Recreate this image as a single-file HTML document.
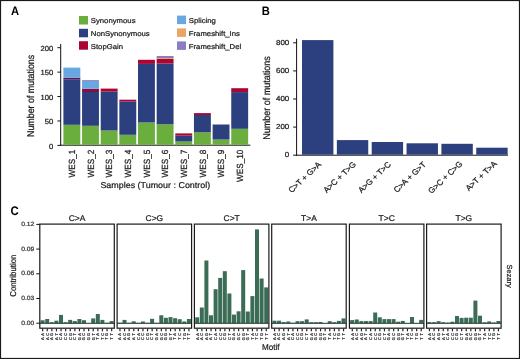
<!DOCTYPE html>
<html><head><meta charset="utf-8"><style>
html,body{margin:0;padding:0;background:#fff;}
body{width:520px;height:359px;overflow:hidden;}
svg{display:block;font-family:"Liberation Sans", sans-serif;will-change:transform;text-rendering:geometricPrecision;filter:blur(0.25px);}
</style></head><body>
<svg width="520" height="359" viewBox="0 0 520 359">
<rect x="0" y="0" width="520" height="359" fill="#fff"/>
<text x="0" y="0" font-size="12.2" text-anchor="start" fill="#000" font-weight="bold" transform="translate(10.90 14.90) scale(0.92 1)" >A</text>
<rect x="79.00" y="16.00" width="9.00" height="8.50" fill="#6aae3e"/>
<text x="0" y="0" font-size="7.1" text-anchor="start" fill="#1a1a1a" stroke="#1a1a1a" stroke-width="0.22" transform="translate(90.80 23.10) scale(1.09 1)" >Synonymous</text>
<rect x="79.00" y="28.80" width="9.00" height="8.50" fill="#2c3f7f"/>
<text x="0" y="0" font-size="7.1" text-anchor="start" fill="#1a1a1a" stroke="#1a1a1a" stroke-width="0.22" transform="translate(90.80 35.90) scale(1.09 1)" >NonSynonymous</text>
<rect x="79.00" y="41.20" width="9.00" height="8.50" fill="#aa0533"/>
<text x="0" y="0" font-size="7.1" text-anchor="start" fill="#1a1a1a" stroke="#1a1a1a" stroke-width="0.22" transform="translate(90.80 48.50) scale(1.09 1)" >StopGain</text>
<rect x="177.00" y="15.60" width="9.00" height="8.50" fill="#68a7e0"/>
<text x="0" y="0" font-size="7.1" text-anchor="start" fill="#1a1a1a" stroke="#1a1a1a" stroke-width="0.22" transform="translate(188.80 23.20) scale(1.09 1)" >Splicing</text>
<rect x="177.00" y="28.40" width="9.00" height="8.50" fill="#e9a566"/>
<text x="0" y="0" font-size="7.1" text-anchor="start" fill="#1a1a1a" stroke="#1a1a1a" stroke-width="0.22" transform="translate(188.80 36.40) scale(1.09 1)" >Frameshift_Ins</text>
<rect x="177.00" y="41.40" width="9.00" height="8.50" fill="#8c7cc3"/>
<text x="0" y="0" font-size="7.1" text-anchor="start" fill="#1a1a1a" stroke="#1a1a1a" stroke-width="0.22" transform="translate(188.80 49.20) scale(1.09 1)" >Frameshift_Del</text>
<line x1="60.70" y1="44.00" x2="60.70" y2="145.90" stroke="#111" stroke-width="1"/>
<line x1="60.20" y1="145.20" x2="250.30" y2="145.20" stroke="#111" stroke-width="1"/>
<line x1="57.40" y1="145.40" x2="60.70" y2="145.40" stroke="#111" stroke-width="1"/>
<text x="0" y="0" font-size="7.4" text-anchor="end" fill="#1a1a1a" stroke="#1a1a1a" stroke-width="0.22" transform="translate(53.20 148.60) scale(1.03 1)" >0</text>
<line x1="57.40" y1="120.98" x2="60.70" y2="120.98" stroke="#111" stroke-width="1"/>
<text x="0" y="0" font-size="7.4" text-anchor="end" fill="#1a1a1a" stroke="#1a1a1a" stroke-width="0.22" transform="translate(53.20 124.18) scale(1.03 1)" >50</text>
<line x1="57.40" y1="96.55" x2="60.70" y2="96.55" stroke="#111" stroke-width="1"/>
<text x="0" y="0" font-size="7.4" text-anchor="end" fill="#1a1a1a" stroke="#1a1a1a" stroke-width="0.22" transform="translate(53.20 99.75) scale(1.03 1)" >100</text>
<line x1="57.40" y1="72.13" x2="60.70" y2="72.13" stroke="#111" stroke-width="1"/>
<text x="0" y="0" font-size="7.4" text-anchor="end" fill="#1a1a1a" stroke="#1a1a1a" stroke-width="0.22" transform="translate(53.20 75.33) scale(1.03 1)" >150</text>
<line x1="57.40" y1="47.70" x2="60.70" y2="47.70" stroke="#111" stroke-width="1"/>
<text x="0" y="0" font-size="7.4" text-anchor="end" fill="#1a1a1a" stroke="#1a1a1a" stroke-width="0.22" transform="translate(53.20 50.90) scale(1.03 1)" >200</text>
<rect x="63.40" y="124.80" width="16.90" height="20.00" fill="#6aae3e"/>
<rect x="63.40" y="79.60" width="16.90" height="45.20" fill="#2c3f7f"/>
<rect x="63.40" y="77.70" width="16.90" height="1.90" fill="#4e1a5a"/>
<rect x="63.40" y="67.60" width="16.90" height="10.10" fill="#68a7e0"/>
<text x="0" y="0" font-size="8.2" text-anchor="end" fill="#1a1a1a" stroke="#1a1a1a" stroke-width="0.22" transform="translate(75.05 149.70) scale(1.09 1) rotate(-90)" >WES_1</text>
<rect x="82.05" y="125.80" width="16.90" height="19.00" fill="#6aae3e"/>
<rect x="82.05" y="92.00" width="16.90" height="33.80" fill="#2c3f7f"/>
<rect x="82.05" y="88.70" width="16.90" height="3.30" fill="#8a0c45"/>
<rect x="82.05" y="81.00" width="16.90" height="7.70" fill="#68a7e0"/>
<rect x="82.05" y="80.00" width="16.90" height="1.00" fill="#9a90c0"/>
<text x="0" y="0" font-size="8.2" text-anchor="end" fill="#1a1a1a" stroke="#1a1a1a" stroke-width="0.22" transform="translate(93.70 149.70) scale(1.09 1) rotate(-90)" >WES_2</text>
<rect x="100.70" y="130.50" width="16.90" height="14.30" fill="#6aae3e"/>
<rect x="100.70" y="91.60" width="16.90" height="38.90" fill="#2c3f7f"/>
<rect x="100.70" y="88.60" width="16.90" height="3.00" fill="#aa0533"/>
<text x="0" y="0" font-size="8.2" text-anchor="end" fill="#1a1a1a" stroke="#1a1a1a" stroke-width="0.22" transform="translate(112.35 149.70) scale(1.09 1) rotate(-90)" >WES_3</text>
<rect x="119.35" y="134.80" width="16.90" height="10.00" fill="#6aae3e"/>
<rect x="119.35" y="101.60" width="16.90" height="33.20" fill="#2c3f7f"/>
<rect x="119.35" y="99.70" width="16.90" height="1.90" fill="#aa0533"/>
<text x="0" y="0" font-size="8.2" text-anchor="end" fill="#1a1a1a" stroke="#1a1a1a" stroke-width="0.22" transform="translate(131.00 149.70) scale(1.09 1) rotate(-90)" >WES_4</text>
<rect x="138.00" y="122.50" width="16.90" height="22.30" fill="#6aae3e"/>
<rect x="138.00" y="63.90" width="16.90" height="58.60" fill="#2c3f7f"/>
<rect x="138.00" y="59.80" width="16.90" height="4.10" fill="#aa0533"/>
<text x="0" y="0" font-size="8.2" text-anchor="end" fill="#1a1a1a" stroke="#1a1a1a" stroke-width="0.22" transform="translate(149.65 149.70) scale(1.09 1) rotate(-90)" >WES_5</text>
<rect x="156.65" y="124.30" width="16.90" height="20.50" fill="#6aae3e"/>
<rect x="156.65" y="63.50" width="16.90" height="60.80" fill="#2c3f7f"/>
<rect x="156.65" y="59.00" width="16.90" height="4.50" fill="#aa0533"/>
<rect x="156.65" y="58.00" width="16.90" height="1.00" fill="#e9a566"/>
<rect x="156.65" y="56.00" width="16.90" height="2.00" fill="#8c7cc3"/>
<text x="0" y="0" font-size="8.2" text-anchor="end" fill="#1a1a1a" stroke="#1a1a1a" stroke-width="0.22" transform="translate(168.30 149.70) scale(1.09 1) rotate(-90)" >WES_6</text>
<rect x="175.30" y="141.50" width="16.90" height="3.30" fill="#6aae3e"/>
<rect x="175.30" y="135.60" width="16.90" height="5.90" fill="#2c3f7f"/>
<rect x="175.30" y="133.40" width="16.90" height="2.20" fill="#aa0533"/>
<text x="0" y="0" font-size="8.2" text-anchor="end" fill="#1a1a1a" stroke="#1a1a1a" stroke-width="0.22" transform="translate(186.95 149.70) scale(1.09 1) rotate(-90)" >WES_7</text>
<rect x="193.95" y="132.30" width="16.90" height="12.50" fill="#6aae3e"/>
<rect x="193.95" y="115.00" width="16.90" height="17.30" fill="#2c3f7f"/>
<rect x="193.95" y="113.10" width="16.90" height="1.90" fill="#aa0533"/>
<text x="0" y="0" font-size="8.2" text-anchor="end" fill="#1a1a1a" stroke="#1a1a1a" stroke-width="0.22" transform="translate(205.60 149.70) scale(1.09 1) rotate(-90)" >WES_8</text>
<rect x="212.60" y="139.50" width="16.90" height="5.30" fill="#6aae3e"/>
<rect x="212.60" y="124.50" width="16.90" height="15.00" fill="#2c3f7f"/>
<text x="0" y="0" font-size="8.2" text-anchor="end" fill="#1a1a1a" stroke="#1a1a1a" stroke-width="0.22" transform="translate(224.25 149.70) scale(1.09 1) rotate(-90)" >WES_9</text>
<rect x="231.25" y="128.80" width="16.90" height="16.00" fill="#6aae3e"/>
<rect x="231.25" y="92.10" width="16.90" height="36.70" fill="#2c3f7f"/>
<rect x="231.25" y="88.20" width="16.90" height="3.90" fill="#aa0533"/>
<text x="0" y="0" font-size="8.2" text-anchor="end" fill="#1a1a1a" stroke="#1a1a1a" stroke-width="0.22" transform="translate(242.90 149.70) scale(1.09 1) rotate(-90)" >WES_10</text>
<text x="0" y="0" font-size="8.5" text-anchor="start" fill="#1a1a1a" stroke="#1a1a1a" stroke-width="0.22" transform="translate(100.40 188.00) scale(1.05 1)" >Samples (Tumour : Control)</text>
<text x="0" y="0" font-size="8.85" text-anchor="middle" fill="#1a1a1a" stroke="#1a1a1a" stroke-width="0.22" transform="translate(34.10 95.90) scale(1.12 1) rotate(-90)" >Number of mutations</text>
<text x="0" y="0" font-size="12.2" text-anchor="start" fill="#000" font-weight="bold" transform="translate(261.80 15.10) scale(0.92 1)" >B</text>
<line x1="296.60" y1="38.70" x2="296.60" y2="155.70" stroke="#111" stroke-width="1"/>
<line x1="296.10" y1="155.20" x2="508.00" y2="155.20" stroke="#111" stroke-width="1"/>
<line x1="293.20" y1="155.20" x2="296.60" y2="155.20" stroke="#111" stroke-width="1"/>
<text x="0" y="0" font-size="7.3" text-anchor="end" fill="#1a1a1a" stroke="#1a1a1a" stroke-width="0.22" transform="translate(289.30 157.00) scale(1.09 1)" >0</text>
<line x1="293.20" y1="127.10" x2="296.60" y2="127.10" stroke="#111" stroke-width="1"/>
<text x="0" y="0" font-size="7.3" text-anchor="end" fill="#1a1a1a" stroke="#1a1a1a" stroke-width="0.22" transform="translate(289.30 128.90) scale(1.09 1)" >200</text>
<line x1="293.20" y1="99.00" x2="296.60" y2="99.00" stroke="#111" stroke-width="1"/>
<text x="0" y="0" font-size="7.3" text-anchor="end" fill="#1a1a1a" stroke="#1a1a1a" stroke-width="0.22" transform="translate(289.30 100.80) scale(1.09 1)" >400</text>
<line x1="293.20" y1="70.90" x2="296.60" y2="70.90" stroke="#111" stroke-width="1"/>
<text x="0" y="0" font-size="7.3" text-anchor="end" fill="#1a1a1a" stroke="#1a1a1a" stroke-width="0.22" transform="translate(289.30 72.70) scale(1.09 1)" >600</text>
<line x1="293.20" y1="42.80" x2="296.60" y2="42.80" stroke="#111" stroke-width="1"/>
<text x="0" y="0" font-size="7.3" text-anchor="end" fill="#1a1a1a" stroke="#1a1a1a" stroke-width="0.22" transform="translate(289.30 44.60) scale(1.09 1)" >800</text>
<rect x="302.00" y="40.10" width="31.40" height="114.60" fill="#2c3f7f"/>
<text x="0" y="0" font-size="7.9" text-anchor="end" fill="#1a1a1a" stroke="#1a1a1a" stroke-width="0.22" transform="translate(321.80 165.00) scale(1.06 1) rotate(-45)" >C&gt;T + G&gt;A</text>
<rect x="336.85" y="140.10" width="31.40" height="14.60" fill="#2c3f7f"/>
<text x="0" y="0" font-size="7.9" text-anchor="end" fill="#1a1a1a" stroke="#1a1a1a" stroke-width="0.22" transform="translate(356.65 165.00) scale(1.06 1) rotate(-45)" >A&gt;C + T&gt;G</text>
<rect x="371.70" y="142.00" width="31.40" height="12.70" fill="#2c3f7f"/>
<text x="0" y="0" font-size="7.9" text-anchor="end" fill="#1a1a1a" stroke="#1a1a1a" stroke-width="0.22" transform="translate(391.50 165.00) scale(1.06 1) rotate(-45)" >A&gt;G + T&gt;C</text>
<rect x="406.55" y="143.30" width="31.40" height="11.40" fill="#2c3f7f"/>
<text x="0" y="0" font-size="7.9" text-anchor="end" fill="#1a1a1a" stroke="#1a1a1a" stroke-width="0.22" transform="translate(426.65 165.00) scale(1.06 1) rotate(-45)" >C&gt;A + G&gt;T</text>
<rect x="441.40" y="143.80" width="31.40" height="10.90" fill="#2c3f7f"/>
<text x="0" y="0" font-size="7.9" text-anchor="end" fill="#1a1a1a" stroke="#1a1a1a" stroke-width="0.22" transform="translate(463.00 164.40) scale(1.06 1) rotate(-45)" >G&gt;C + C&gt;G</text>
<rect x="476.25" y="147.70" width="31.40" height="7.00" fill="#2c3f7f"/>
<text x="0" y="0" font-size="7.9" text-anchor="end" fill="#1a1a1a" stroke="#1a1a1a" stroke-width="0.22" transform="translate(497.45 164.40) scale(1.06 1) rotate(-45)" >A&gt;T + T&gt;A</text>
<text x="0" y="0" font-size="9.0" text-anchor="middle" fill="#1a1a1a" stroke="#1a1a1a" stroke-width="0.22" transform="translate(269.80 98.00) scale(1.1 1) rotate(-90)" >Number of mutations</text>
<text x="0" y="0" font-size="12.4" text-anchor="start" fill="#000" font-weight="bold" transform="translate(10.60 215.30) scale(0.92 1)" >C</text>
<text x="0" y="0" font-size="8.3" text-anchor="middle" fill="#1a1a1a" stroke="#1a1a1a" stroke-width="0.22" transform="translate(77.05 221.10) scale(1.02 1)" >C&gt;A</text>
<rect x="40.60" y="320.30" width="4.00" height="2.90" fill="#3b6c55"/>
<rect x="45.20" y="319.00" width="4.00" height="4.20" fill="#3b6c55"/>
<rect x="49.80" y="322.20" width="4.00" height="1.00" fill="#3b6c55"/>
<rect x="54.40" y="320.70" width="4.00" height="2.50" fill="#3b6c55"/>
<rect x="59.00" y="314.90" width="4.00" height="8.30" fill="#3b6c55"/>
<rect x="63.60" y="322.20" width="4.00" height="1.00" fill="#3b6c55"/>
<rect x="68.20" y="319.90" width="4.00" height="3.30" fill="#3b6c55"/>
<rect x="72.80" y="321.10" width="4.00" height="2.10" fill="#3b6c55"/>
<rect x="77.40" y="319.00" width="4.00" height="4.20" fill="#3b6c55"/>
<rect x="82.00" y="320.20" width="4.00" height="3.00" fill="#3b6c55"/>
<rect x="91.20" y="318.40" width="4.00" height="4.80" fill="#3b6c55"/>
<rect x="95.80" y="314.00" width="4.00" height="9.20" fill="#3b6c55"/>
<rect x="100.40" y="319.90" width="4.00" height="3.30" fill="#3b6c55"/>
<rect x="105.00" y="322.80" width="4.00" height="0.40" fill="#3b6c55"/>
<rect x="109.60" y="321.10" width="4.00" height="2.10" fill="#3b6c55"/>
<line x1="39.80" y1="323.30" x2="114.30" y2="323.30" stroke="#1d3a2b" stroke-width="1"/>
<rect x="39.80" y="224.1" width="74.50" height="104.1" fill="none" stroke="#1a1a1a" stroke-width="1.2"/>
<line x1="42.65" y1="328.80" x2="42.65" y2="331.30" stroke="#222" stroke-width="1.2"/>
<text x="0" y="0" font-size="4.0" text-anchor="middle" fill="#383838" stroke="#383838" stroke-width="0.25" transform="translate(43.95 334.40) rotate(-90)" text-rendering="geometricPrecision">A</text>
<text x="0" y="0" font-size="4.0" text-anchor="middle" fill="#383838" stroke="#383838" stroke-width="0.25" transform="translate(43.95 338.60) rotate(-90)" text-rendering="geometricPrecision">A</text>
<line x1="47.25" y1="328.80" x2="47.25" y2="331.30" stroke="#222" stroke-width="1.2"/>
<text x="0" y="0" font-size="4.0" text-anchor="middle" fill="#383838" stroke="#383838" stroke-width="0.25" transform="translate(48.55 334.40) rotate(-90)" text-rendering="geometricPrecision">C</text>
<text x="0" y="0" font-size="4.0" text-anchor="middle" fill="#383838" stroke="#383838" stroke-width="0.25" transform="translate(48.55 338.60) rotate(-90)" text-rendering="geometricPrecision">A</text>
<line x1="51.85" y1="328.80" x2="51.85" y2="331.30" stroke="#222" stroke-width="1.2"/>
<text x="0" y="0" font-size="4.0" text-anchor="middle" fill="#383838" stroke="#383838" stroke-width="0.25" transform="translate(53.15 334.40) rotate(-90)" text-rendering="geometricPrecision">G</text>
<text x="0" y="0" font-size="4.0" text-anchor="middle" fill="#383838" stroke="#383838" stroke-width="0.25" transform="translate(53.15 338.60) rotate(-90)" text-rendering="geometricPrecision">A</text>
<line x1="56.45" y1="328.80" x2="56.45" y2="331.30" stroke="#222" stroke-width="1.2"/>
<text x="0" y="0" font-size="4.0" text-anchor="middle" fill="#383838" stroke="#383838" stroke-width="0.25" transform="translate(57.75 334.40) rotate(-90)" text-rendering="geometricPrecision">T</text>
<text x="0" y="0" font-size="4.0" text-anchor="middle" fill="#383838" stroke="#383838" stroke-width="0.25" transform="translate(57.75 338.60) rotate(-90)" text-rendering="geometricPrecision">A</text>
<line x1="61.05" y1="328.80" x2="61.05" y2="331.30" stroke="#222" stroke-width="1.2"/>
<text x="0" y="0" font-size="4.0" text-anchor="middle" fill="#383838" stroke="#383838" stroke-width="0.25" transform="translate(62.35 334.40) rotate(-90)" text-rendering="geometricPrecision">A</text>
<text x="0" y="0" font-size="4.0" text-anchor="middle" fill="#383838" stroke="#383838" stroke-width="0.25" transform="translate(62.35 338.60) rotate(-90)" text-rendering="geometricPrecision">C</text>
<line x1="65.65" y1="328.80" x2="65.65" y2="331.30" stroke="#222" stroke-width="1.2"/>
<text x="0" y="0" font-size="4.0" text-anchor="middle" fill="#383838" stroke="#383838" stroke-width="0.25" transform="translate(66.95 334.40) rotate(-90)" text-rendering="geometricPrecision">C</text>
<text x="0" y="0" font-size="4.0" text-anchor="middle" fill="#383838" stroke="#383838" stroke-width="0.25" transform="translate(66.95 338.60) rotate(-90)" text-rendering="geometricPrecision">C</text>
<line x1="70.25" y1="328.80" x2="70.25" y2="331.30" stroke="#222" stroke-width="1.2"/>
<text x="0" y="0" font-size="4.0" text-anchor="middle" fill="#383838" stroke="#383838" stroke-width="0.25" transform="translate(71.55 334.40) rotate(-90)" text-rendering="geometricPrecision">G</text>
<text x="0" y="0" font-size="4.0" text-anchor="middle" fill="#383838" stroke="#383838" stroke-width="0.25" transform="translate(71.55 338.60) rotate(-90)" text-rendering="geometricPrecision">C</text>
<line x1="74.85" y1="328.80" x2="74.85" y2="331.30" stroke="#222" stroke-width="1.2"/>
<text x="0" y="0" font-size="4.0" text-anchor="middle" fill="#383838" stroke="#383838" stroke-width="0.25" transform="translate(76.15 334.40) rotate(-90)" text-rendering="geometricPrecision">T</text>
<text x="0" y="0" font-size="4.0" text-anchor="middle" fill="#383838" stroke="#383838" stroke-width="0.25" transform="translate(76.15 338.60) rotate(-90)" text-rendering="geometricPrecision">C</text>
<line x1="79.45" y1="328.80" x2="79.45" y2="331.30" stroke="#222" stroke-width="1.2"/>
<text x="0" y="0" font-size="4.0" text-anchor="middle" fill="#383838" stroke="#383838" stroke-width="0.25" transform="translate(80.75 334.40) rotate(-90)" text-rendering="geometricPrecision">A</text>
<text x="0" y="0" font-size="4.0" text-anchor="middle" fill="#383838" stroke="#383838" stroke-width="0.25" transform="translate(80.75 338.60) rotate(-90)" text-rendering="geometricPrecision">G</text>
<line x1="84.05" y1="328.80" x2="84.05" y2="331.30" stroke="#222" stroke-width="1.2"/>
<text x="0" y="0" font-size="4.0" text-anchor="middle" fill="#383838" stroke="#383838" stroke-width="0.25" transform="translate(85.35 334.40) rotate(-90)" text-rendering="geometricPrecision">C</text>
<text x="0" y="0" font-size="4.0" text-anchor="middle" fill="#383838" stroke="#383838" stroke-width="0.25" transform="translate(85.35 338.60) rotate(-90)" text-rendering="geometricPrecision">G</text>
<line x1="88.65" y1="328.80" x2="88.65" y2="331.30" stroke="#222" stroke-width="1.2"/>
<text x="0" y="0" font-size="4.0" text-anchor="middle" fill="#383838" stroke="#383838" stroke-width="0.25" transform="translate(89.95 334.40) rotate(-90)" text-rendering="geometricPrecision">G</text>
<text x="0" y="0" font-size="4.0" text-anchor="middle" fill="#383838" stroke="#383838" stroke-width="0.25" transform="translate(89.95 338.60) rotate(-90)" text-rendering="geometricPrecision">G</text>
<line x1="93.25" y1="328.80" x2="93.25" y2="331.30" stroke="#222" stroke-width="1.2"/>
<text x="0" y="0" font-size="4.0" text-anchor="middle" fill="#383838" stroke="#383838" stroke-width="0.25" transform="translate(94.55 334.40) rotate(-90)" text-rendering="geometricPrecision">T</text>
<text x="0" y="0" font-size="4.0" text-anchor="middle" fill="#383838" stroke="#383838" stroke-width="0.25" transform="translate(94.55 338.60) rotate(-90)" text-rendering="geometricPrecision">G</text>
<line x1="97.85" y1="328.80" x2="97.85" y2="331.30" stroke="#222" stroke-width="1.2"/>
<text x="0" y="0" font-size="4.0" text-anchor="middle" fill="#383838" stroke="#383838" stroke-width="0.25" transform="translate(99.15 334.40) rotate(-90)" text-rendering="geometricPrecision">A</text>
<text x="0" y="0" font-size="4.0" text-anchor="middle" fill="#383838" stroke="#383838" stroke-width="0.25" transform="translate(99.15 338.60) rotate(-90)" text-rendering="geometricPrecision">T</text>
<line x1="102.45" y1="328.80" x2="102.45" y2="331.30" stroke="#222" stroke-width="1.2"/>
<text x="0" y="0" font-size="4.0" text-anchor="middle" fill="#383838" stroke="#383838" stroke-width="0.25" transform="translate(103.75 334.40) rotate(-90)" text-rendering="geometricPrecision">C</text>
<text x="0" y="0" font-size="4.0" text-anchor="middle" fill="#383838" stroke="#383838" stroke-width="0.25" transform="translate(103.75 338.60) rotate(-90)" text-rendering="geometricPrecision">T</text>
<line x1="107.05" y1="328.80" x2="107.05" y2="331.30" stroke="#222" stroke-width="1.2"/>
<text x="0" y="0" font-size="4.0" text-anchor="middle" fill="#383838" stroke="#383838" stroke-width="0.25" transform="translate(108.35 334.40) rotate(-90)" text-rendering="geometricPrecision">G</text>
<text x="0" y="0" font-size="4.0" text-anchor="middle" fill="#383838" stroke="#383838" stroke-width="0.25" transform="translate(108.35 338.60) rotate(-90)" text-rendering="geometricPrecision">T</text>
<line x1="111.65" y1="328.80" x2="111.65" y2="331.30" stroke="#222" stroke-width="1.2"/>
<text x="0" y="0" font-size="4.0" text-anchor="middle" fill="#383838" stroke="#383838" stroke-width="0.25" transform="translate(112.95 334.40) rotate(-90)" text-rendering="geometricPrecision">T</text>
<text x="0" y="0" font-size="4.0" text-anchor="middle" fill="#383838" stroke="#383838" stroke-width="0.25" transform="translate(112.95 338.60) rotate(-90)" text-rendering="geometricPrecision">T</text>
<text x="0" y="0" font-size="8.3" text-anchor="middle" fill="#1a1a1a" stroke="#1a1a1a" stroke-width="0.22" transform="translate(154.35 221.10) scale(1.02 1)" >C&gt;G</text>
<rect x="117.90" y="322.70" width="4.00" height="0.50" fill="#3b6c55"/>
<rect x="122.50" y="319.90" width="4.00" height="3.30" fill="#3b6c55"/>
<rect x="127.10" y="322.80" width="4.00" height="0.40" fill="#3b6c55"/>
<rect x="131.70" y="321.30" width="4.00" height="1.90" fill="#3b6c55"/>
<rect x="136.30" y="322.80" width="4.00" height="0.40" fill="#3b6c55"/>
<rect x="140.90" y="321.50" width="4.00" height="1.70" fill="#3b6c55"/>
<rect x="145.50" y="322.80" width="4.00" height="0.40" fill="#3b6c55"/>
<rect x="150.10" y="318.80" width="4.00" height="4.40" fill="#3b6c55"/>
<rect x="154.70" y="322.90" width="4.00" height="0.30" fill="#3b6c55"/>
<rect x="159.30" y="315.30" width="4.00" height="7.90" fill="#3b6c55"/>
<rect x="163.90" y="317.80" width="4.00" height="5.40" fill="#3b6c55"/>
<rect x="168.50" y="317.10" width="4.00" height="6.10" fill="#3b6c55"/>
<rect x="173.10" y="318.20" width="4.00" height="5.00" fill="#3b6c55"/>
<rect x="177.70" y="319.20" width="4.00" height="4.00" fill="#3b6c55"/>
<rect x="182.30" y="321.50" width="4.00" height="1.70" fill="#3b6c55"/>
<rect x="186.90" y="319.00" width="4.00" height="4.20" fill="#3b6c55"/>
<line x1="117.10" y1="323.30" x2="191.60" y2="323.30" stroke="#1d3a2b" stroke-width="1"/>
<rect x="117.10" y="224.1" width="74.50" height="104.1" fill="none" stroke="#1a1a1a" stroke-width="1.2"/>
<line x1="119.95" y1="328.80" x2="119.95" y2="331.30" stroke="#222" stroke-width="1.2"/>
<text x="0" y="0" font-size="4.0" text-anchor="middle" fill="#383838" stroke="#383838" stroke-width="0.25" transform="translate(121.25 334.40) rotate(-90)" text-rendering="geometricPrecision">A</text>
<text x="0" y="0" font-size="4.0" text-anchor="middle" fill="#383838" stroke="#383838" stroke-width="0.25" transform="translate(121.25 338.60) rotate(-90)" text-rendering="geometricPrecision">A</text>
<line x1="124.55" y1="328.80" x2="124.55" y2="331.30" stroke="#222" stroke-width="1.2"/>
<text x="0" y="0" font-size="4.0" text-anchor="middle" fill="#383838" stroke="#383838" stroke-width="0.25" transform="translate(125.85 334.40) rotate(-90)" text-rendering="geometricPrecision">C</text>
<text x="0" y="0" font-size="4.0" text-anchor="middle" fill="#383838" stroke="#383838" stroke-width="0.25" transform="translate(125.85 338.60) rotate(-90)" text-rendering="geometricPrecision">A</text>
<line x1="129.15" y1="328.80" x2="129.15" y2="331.30" stroke="#222" stroke-width="1.2"/>
<text x="0" y="0" font-size="4.0" text-anchor="middle" fill="#383838" stroke="#383838" stroke-width="0.25" transform="translate(130.45 334.40) rotate(-90)" text-rendering="geometricPrecision">G</text>
<text x="0" y="0" font-size="4.0" text-anchor="middle" fill="#383838" stroke="#383838" stroke-width="0.25" transform="translate(130.45 338.60) rotate(-90)" text-rendering="geometricPrecision">A</text>
<line x1="133.75" y1="328.80" x2="133.75" y2="331.30" stroke="#222" stroke-width="1.2"/>
<text x="0" y="0" font-size="4.0" text-anchor="middle" fill="#383838" stroke="#383838" stroke-width="0.25" transform="translate(135.05 334.40) rotate(-90)" text-rendering="geometricPrecision">T</text>
<text x="0" y="0" font-size="4.0" text-anchor="middle" fill="#383838" stroke="#383838" stroke-width="0.25" transform="translate(135.05 338.60) rotate(-90)" text-rendering="geometricPrecision">A</text>
<line x1="138.35" y1="328.80" x2="138.35" y2="331.30" stroke="#222" stroke-width="1.2"/>
<text x="0" y="0" font-size="4.0" text-anchor="middle" fill="#383838" stroke="#383838" stroke-width="0.25" transform="translate(139.65 334.40) rotate(-90)" text-rendering="geometricPrecision">A</text>
<text x="0" y="0" font-size="4.0" text-anchor="middle" fill="#383838" stroke="#383838" stroke-width="0.25" transform="translate(139.65 338.60) rotate(-90)" text-rendering="geometricPrecision">C</text>
<line x1="142.95" y1="328.80" x2="142.95" y2="331.30" stroke="#222" stroke-width="1.2"/>
<text x="0" y="0" font-size="4.0" text-anchor="middle" fill="#383838" stroke="#383838" stroke-width="0.25" transform="translate(144.25 334.40) rotate(-90)" text-rendering="geometricPrecision">C</text>
<text x="0" y="0" font-size="4.0" text-anchor="middle" fill="#383838" stroke="#383838" stroke-width="0.25" transform="translate(144.25 338.60) rotate(-90)" text-rendering="geometricPrecision">C</text>
<line x1="147.55" y1="328.80" x2="147.55" y2="331.30" stroke="#222" stroke-width="1.2"/>
<text x="0" y="0" font-size="4.0" text-anchor="middle" fill="#383838" stroke="#383838" stroke-width="0.25" transform="translate(148.85 334.40) rotate(-90)" text-rendering="geometricPrecision">G</text>
<text x="0" y="0" font-size="4.0" text-anchor="middle" fill="#383838" stroke="#383838" stroke-width="0.25" transform="translate(148.85 338.60) rotate(-90)" text-rendering="geometricPrecision">C</text>
<line x1="152.15" y1="328.80" x2="152.15" y2="331.30" stroke="#222" stroke-width="1.2"/>
<text x="0" y="0" font-size="4.0" text-anchor="middle" fill="#383838" stroke="#383838" stroke-width="0.25" transform="translate(153.45 334.40) rotate(-90)" text-rendering="geometricPrecision">T</text>
<text x="0" y="0" font-size="4.0" text-anchor="middle" fill="#383838" stroke="#383838" stroke-width="0.25" transform="translate(153.45 338.60) rotate(-90)" text-rendering="geometricPrecision">C</text>
<line x1="156.75" y1="328.80" x2="156.75" y2="331.30" stroke="#222" stroke-width="1.2"/>
<text x="0" y="0" font-size="4.0" text-anchor="middle" fill="#383838" stroke="#383838" stroke-width="0.25" transform="translate(158.05 334.40) rotate(-90)" text-rendering="geometricPrecision">A</text>
<text x="0" y="0" font-size="4.0" text-anchor="middle" fill="#383838" stroke="#383838" stroke-width="0.25" transform="translate(158.05 338.60) rotate(-90)" text-rendering="geometricPrecision">G</text>
<line x1="161.35" y1="328.80" x2="161.35" y2="331.30" stroke="#222" stroke-width="1.2"/>
<text x="0" y="0" font-size="4.0" text-anchor="middle" fill="#383838" stroke="#383838" stroke-width="0.25" transform="translate(162.65 334.40) rotate(-90)" text-rendering="geometricPrecision">C</text>
<text x="0" y="0" font-size="4.0" text-anchor="middle" fill="#383838" stroke="#383838" stroke-width="0.25" transform="translate(162.65 338.60) rotate(-90)" text-rendering="geometricPrecision">G</text>
<line x1="165.95" y1="328.80" x2="165.95" y2="331.30" stroke="#222" stroke-width="1.2"/>
<text x="0" y="0" font-size="4.0" text-anchor="middle" fill="#383838" stroke="#383838" stroke-width="0.25" transform="translate(167.25 334.40) rotate(-90)" text-rendering="geometricPrecision">G</text>
<text x="0" y="0" font-size="4.0" text-anchor="middle" fill="#383838" stroke="#383838" stroke-width="0.25" transform="translate(167.25 338.60) rotate(-90)" text-rendering="geometricPrecision">G</text>
<line x1="170.55" y1="328.80" x2="170.55" y2="331.30" stroke="#222" stroke-width="1.2"/>
<text x="0" y="0" font-size="4.0" text-anchor="middle" fill="#383838" stroke="#383838" stroke-width="0.25" transform="translate(171.85 334.40) rotate(-90)" text-rendering="geometricPrecision">T</text>
<text x="0" y="0" font-size="4.0" text-anchor="middle" fill="#383838" stroke="#383838" stroke-width="0.25" transform="translate(171.85 338.60) rotate(-90)" text-rendering="geometricPrecision">G</text>
<line x1="175.15" y1="328.80" x2="175.15" y2="331.30" stroke="#222" stroke-width="1.2"/>
<text x="0" y="0" font-size="4.0" text-anchor="middle" fill="#383838" stroke="#383838" stroke-width="0.25" transform="translate(176.45 334.40) rotate(-90)" text-rendering="geometricPrecision">A</text>
<text x="0" y="0" font-size="4.0" text-anchor="middle" fill="#383838" stroke="#383838" stroke-width="0.25" transform="translate(176.45 338.60) rotate(-90)" text-rendering="geometricPrecision">T</text>
<line x1="179.75" y1="328.80" x2="179.75" y2="331.30" stroke="#222" stroke-width="1.2"/>
<text x="0" y="0" font-size="4.0" text-anchor="middle" fill="#383838" stroke="#383838" stroke-width="0.25" transform="translate(181.05 334.40) rotate(-90)" text-rendering="geometricPrecision">C</text>
<text x="0" y="0" font-size="4.0" text-anchor="middle" fill="#383838" stroke="#383838" stroke-width="0.25" transform="translate(181.05 338.60) rotate(-90)" text-rendering="geometricPrecision">T</text>
<line x1="184.35" y1="328.80" x2="184.35" y2="331.30" stroke="#222" stroke-width="1.2"/>
<text x="0" y="0" font-size="4.0" text-anchor="middle" fill="#383838" stroke="#383838" stroke-width="0.25" transform="translate(185.65 334.40) rotate(-90)" text-rendering="geometricPrecision">G</text>
<text x="0" y="0" font-size="4.0" text-anchor="middle" fill="#383838" stroke="#383838" stroke-width="0.25" transform="translate(185.65 338.60) rotate(-90)" text-rendering="geometricPrecision">T</text>
<line x1="188.95" y1="328.80" x2="188.95" y2="331.30" stroke="#222" stroke-width="1.2"/>
<text x="0" y="0" font-size="4.0" text-anchor="middle" fill="#383838" stroke="#383838" stroke-width="0.25" transform="translate(190.25 334.40) rotate(-90)" text-rendering="geometricPrecision">T</text>
<text x="0" y="0" font-size="4.0" text-anchor="middle" fill="#383838" stroke="#383838" stroke-width="0.25" transform="translate(190.25 338.60) rotate(-90)" text-rendering="geometricPrecision">T</text>
<text x="0" y="0" font-size="8.3" text-anchor="middle" fill="#1a1a1a" stroke="#1a1a1a" stroke-width="0.22" transform="translate(231.65 221.10) scale(1.02 1)" >C&gt;T</text>
<rect x="195.20" y="317.30" width="4.00" height="5.90" fill="#3b6c55"/>
<rect x="199.80" y="307.50" width="4.00" height="15.70" fill="#3b6c55"/>
<rect x="204.40" y="260.50" width="4.00" height="62.70" fill="#3b6c55"/>
<rect x="209.00" y="315.30" width="4.00" height="7.90" fill="#3b6c55"/>
<rect x="213.60" y="289.20" width="4.00" height="34.00" fill="#3b6c55"/>
<rect x="218.20" y="277.90" width="4.00" height="45.30" fill="#3b6c55"/>
<rect x="222.80" y="271.20" width="4.00" height="52.00" fill="#3b6c55"/>
<rect x="227.40" y="293.50" width="4.00" height="29.70" fill="#3b6c55"/>
<rect x="232.00" y="314.60" width="4.00" height="8.60" fill="#3b6c55"/>
<rect x="236.60" y="311.30" width="4.00" height="11.90" fill="#3b6c55"/>
<rect x="241.20" y="270.10" width="4.00" height="53.10" fill="#3b6c55"/>
<rect x="245.80" y="311.50" width="4.00" height="11.70" fill="#3b6c55"/>
<rect x="250.40" y="296.10" width="4.00" height="27.10" fill="#3b6c55"/>
<rect x="255.00" y="229.40" width="4.00" height="93.80" fill="#3b6c55"/>
<rect x="259.60" y="278.50" width="4.00" height="44.70" fill="#3b6c55"/>
<rect x="264.20" y="287.40" width="4.00" height="35.80" fill="#3b6c55"/>
<line x1="194.40" y1="323.30" x2="268.90" y2="323.30" stroke="#1d3a2b" stroke-width="1"/>
<rect x="194.40" y="224.1" width="74.50" height="104.1" fill="none" stroke="#1a1a1a" stroke-width="1.2"/>
<line x1="197.25" y1="328.80" x2="197.25" y2="331.30" stroke="#222" stroke-width="1.2"/>
<text x="0" y="0" font-size="4.0" text-anchor="middle" fill="#383838" stroke="#383838" stroke-width="0.25" transform="translate(198.55 334.40) rotate(-90)" text-rendering="geometricPrecision">A</text>
<text x="0" y="0" font-size="4.0" text-anchor="middle" fill="#383838" stroke="#383838" stroke-width="0.25" transform="translate(198.55 338.60) rotate(-90)" text-rendering="geometricPrecision">A</text>
<line x1="201.85" y1="328.80" x2="201.85" y2="331.30" stroke="#222" stroke-width="1.2"/>
<text x="0" y="0" font-size="4.0" text-anchor="middle" fill="#383838" stroke="#383838" stroke-width="0.25" transform="translate(203.15 334.40) rotate(-90)" text-rendering="geometricPrecision">C</text>
<text x="0" y="0" font-size="4.0" text-anchor="middle" fill="#383838" stroke="#383838" stroke-width="0.25" transform="translate(203.15 338.60) rotate(-90)" text-rendering="geometricPrecision">A</text>
<line x1="206.45" y1="328.80" x2="206.45" y2="331.30" stroke="#222" stroke-width="1.2"/>
<text x="0" y="0" font-size="4.0" text-anchor="middle" fill="#383838" stroke="#383838" stroke-width="0.25" transform="translate(207.75 334.40) rotate(-90)" text-rendering="geometricPrecision">G</text>
<text x="0" y="0" font-size="4.0" text-anchor="middle" fill="#383838" stroke="#383838" stroke-width="0.25" transform="translate(207.75 338.60) rotate(-90)" text-rendering="geometricPrecision">A</text>
<line x1="211.05" y1="328.80" x2="211.05" y2="331.30" stroke="#222" stroke-width="1.2"/>
<text x="0" y="0" font-size="4.0" text-anchor="middle" fill="#383838" stroke="#383838" stroke-width="0.25" transform="translate(212.35 334.40) rotate(-90)" text-rendering="geometricPrecision">T</text>
<text x="0" y="0" font-size="4.0" text-anchor="middle" fill="#383838" stroke="#383838" stroke-width="0.25" transform="translate(212.35 338.60) rotate(-90)" text-rendering="geometricPrecision">A</text>
<line x1="215.65" y1="328.80" x2="215.65" y2="331.30" stroke="#222" stroke-width="1.2"/>
<text x="0" y="0" font-size="4.0" text-anchor="middle" fill="#383838" stroke="#383838" stroke-width="0.25" transform="translate(216.95 334.40) rotate(-90)" text-rendering="geometricPrecision">A</text>
<text x="0" y="0" font-size="4.0" text-anchor="middle" fill="#383838" stroke="#383838" stroke-width="0.25" transform="translate(216.95 338.60) rotate(-90)" text-rendering="geometricPrecision">C</text>
<line x1="220.25" y1="328.80" x2="220.25" y2="331.30" stroke="#222" stroke-width="1.2"/>
<text x="0" y="0" font-size="4.0" text-anchor="middle" fill="#383838" stroke="#383838" stroke-width="0.25" transform="translate(221.55 334.40) rotate(-90)" text-rendering="geometricPrecision">C</text>
<text x="0" y="0" font-size="4.0" text-anchor="middle" fill="#383838" stroke="#383838" stroke-width="0.25" transform="translate(221.55 338.60) rotate(-90)" text-rendering="geometricPrecision">C</text>
<line x1="224.85" y1="328.80" x2="224.85" y2="331.30" stroke="#222" stroke-width="1.2"/>
<text x="0" y="0" font-size="4.0" text-anchor="middle" fill="#383838" stroke="#383838" stroke-width="0.25" transform="translate(226.15 334.40) rotate(-90)" text-rendering="geometricPrecision">G</text>
<text x="0" y="0" font-size="4.0" text-anchor="middle" fill="#383838" stroke="#383838" stroke-width="0.25" transform="translate(226.15 338.60) rotate(-90)" text-rendering="geometricPrecision">C</text>
<line x1="229.45" y1="328.80" x2="229.45" y2="331.30" stroke="#222" stroke-width="1.2"/>
<text x="0" y="0" font-size="4.0" text-anchor="middle" fill="#383838" stroke="#383838" stroke-width="0.25" transform="translate(230.75 334.40) rotate(-90)" text-rendering="geometricPrecision">T</text>
<text x="0" y="0" font-size="4.0" text-anchor="middle" fill="#383838" stroke="#383838" stroke-width="0.25" transform="translate(230.75 338.60) rotate(-90)" text-rendering="geometricPrecision">C</text>
<line x1="234.05" y1="328.80" x2="234.05" y2="331.30" stroke="#222" stroke-width="1.2"/>
<text x="0" y="0" font-size="4.0" text-anchor="middle" fill="#383838" stroke="#383838" stroke-width="0.25" transform="translate(235.35 334.40) rotate(-90)" text-rendering="geometricPrecision">A</text>
<text x="0" y="0" font-size="4.0" text-anchor="middle" fill="#383838" stroke="#383838" stroke-width="0.25" transform="translate(235.35 338.60) rotate(-90)" text-rendering="geometricPrecision">G</text>
<line x1="238.65" y1="328.80" x2="238.65" y2="331.30" stroke="#222" stroke-width="1.2"/>
<text x="0" y="0" font-size="4.0" text-anchor="middle" fill="#383838" stroke="#383838" stroke-width="0.25" transform="translate(239.95 334.40) rotate(-90)" text-rendering="geometricPrecision">C</text>
<text x="0" y="0" font-size="4.0" text-anchor="middle" fill="#383838" stroke="#383838" stroke-width="0.25" transform="translate(239.95 338.60) rotate(-90)" text-rendering="geometricPrecision">G</text>
<line x1="243.25" y1="328.80" x2="243.25" y2="331.30" stroke="#222" stroke-width="1.2"/>
<text x="0" y="0" font-size="4.0" text-anchor="middle" fill="#383838" stroke="#383838" stroke-width="0.25" transform="translate(244.55 334.40) rotate(-90)" text-rendering="geometricPrecision">G</text>
<text x="0" y="0" font-size="4.0" text-anchor="middle" fill="#383838" stroke="#383838" stroke-width="0.25" transform="translate(244.55 338.60) rotate(-90)" text-rendering="geometricPrecision">G</text>
<line x1="247.85" y1="328.80" x2="247.85" y2="331.30" stroke="#222" stroke-width="1.2"/>
<text x="0" y="0" font-size="4.0" text-anchor="middle" fill="#383838" stroke="#383838" stroke-width="0.25" transform="translate(249.15 334.40) rotate(-90)" text-rendering="geometricPrecision">T</text>
<text x="0" y="0" font-size="4.0" text-anchor="middle" fill="#383838" stroke="#383838" stroke-width="0.25" transform="translate(249.15 338.60) rotate(-90)" text-rendering="geometricPrecision">G</text>
<line x1="252.45" y1="328.80" x2="252.45" y2="331.30" stroke="#222" stroke-width="1.2"/>
<text x="0" y="0" font-size="4.0" text-anchor="middle" fill="#383838" stroke="#383838" stroke-width="0.25" transform="translate(253.75 334.40) rotate(-90)" text-rendering="geometricPrecision">A</text>
<text x="0" y="0" font-size="4.0" text-anchor="middle" fill="#383838" stroke="#383838" stroke-width="0.25" transform="translate(253.75 338.60) rotate(-90)" text-rendering="geometricPrecision">T</text>
<line x1="257.05" y1="328.80" x2="257.05" y2="331.30" stroke="#222" stroke-width="1.2"/>
<text x="0" y="0" font-size="4.0" text-anchor="middle" fill="#383838" stroke="#383838" stroke-width="0.25" transform="translate(258.35 334.40) rotate(-90)" text-rendering="geometricPrecision">C</text>
<text x="0" y="0" font-size="4.0" text-anchor="middle" fill="#383838" stroke="#383838" stroke-width="0.25" transform="translate(258.35 338.60) rotate(-90)" text-rendering="geometricPrecision">T</text>
<line x1="261.65" y1="328.80" x2="261.65" y2="331.30" stroke="#222" stroke-width="1.2"/>
<text x="0" y="0" font-size="4.0" text-anchor="middle" fill="#383838" stroke="#383838" stroke-width="0.25" transform="translate(262.95 334.40) rotate(-90)" text-rendering="geometricPrecision">G</text>
<text x="0" y="0" font-size="4.0" text-anchor="middle" fill="#383838" stroke="#383838" stroke-width="0.25" transform="translate(262.95 338.60) rotate(-90)" text-rendering="geometricPrecision">T</text>
<line x1="266.25" y1="328.80" x2="266.25" y2="331.30" stroke="#222" stroke-width="1.2"/>
<text x="0" y="0" font-size="4.0" text-anchor="middle" fill="#383838" stroke="#383838" stroke-width="0.25" transform="translate(267.55 334.40) rotate(-90)" text-rendering="geometricPrecision">T</text>
<text x="0" y="0" font-size="4.0" text-anchor="middle" fill="#383838" stroke="#383838" stroke-width="0.25" transform="translate(267.55 338.60) rotate(-90)" text-rendering="geometricPrecision">T</text>
<text x="0" y="0" font-size="8.3" text-anchor="middle" fill="#1a1a1a" stroke="#1a1a1a" stroke-width="0.22" transform="translate(308.95 221.10) scale(1.02 1)" >T&gt;A</text>
<rect x="272.50" y="320.70" width="4.00" height="2.50" fill="#3b6c55"/>
<rect x="277.10" y="320.70" width="4.00" height="2.50" fill="#3b6c55"/>
<rect x="281.70" y="322.10" width="4.00" height="1.10" fill="#3b6c55"/>
<rect x="286.30" y="321.50" width="4.00" height="1.70" fill="#3b6c55"/>
<rect x="290.90" y="322.80" width="4.00" height="0.40" fill="#3b6c55"/>
<rect x="295.50" y="321.20" width="4.00" height="2.00" fill="#3b6c55"/>
<rect x="300.10" y="321.20" width="4.00" height="2.00" fill="#3b6c55"/>
<rect x="304.70" y="319.40" width="4.00" height="3.80" fill="#3b6c55"/>
<rect x="309.30" y="322.20" width="4.00" height="1.00" fill="#3b6c55"/>
<rect x="313.90" y="322.20" width="4.00" height="1.00" fill="#3b6c55"/>
<rect x="318.50" y="322.00" width="4.00" height="1.20" fill="#3b6c55"/>
<rect x="327.70" y="321.20" width="4.00" height="2.00" fill="#3b6c55"/>
<rect x="332.30" y="322.20" width="4.00" height="1.00" fill="#3b6c55"/>
<rect x="336.90" y="320.90" width="4.00" height="2.30" fill="#3b6c55"/>
<rect x="341.50" y="318.40" width="4.00" height="4.80" fill="#3b6c55"/>
<line x1="271.70" y1="323.30" x2="346.20" y2="323.30" stroke="#1d3a2b" stroke-width="1"/>
<rect x="271.70" y="224.1" width="74.50" height="104.1" fill="none" stroke="#1a1a1a" stroke-width="1.2"/>
<line x1="274.55" y1="328.80" x2="274.55" y2="331.30" stroke="#222" stroke-width="1.2"/>
<text x="0" y="0" font-size="4.0" text-anchor="middle" fill="#383838" stroke="#383838" stroke-width="0.25" transform="translate(275.85 334.40) rotate(-90)" text-rendering="geometricPrecision">A</text>
<text x="0" y="0" font-size="4.0" text-anchor="middle" fill="#383838" stroke="#383838" stroke-width="0.25" transform="translate(275.85 338.60) rotate(-90)" text-rendering="geometricPrecision">A</text>
<line x1="279.15" y1="328.80" x2="279.15" y2="331.30" stroke="#222" stroke-width="1.2"/>
<text x="0" y="0" font-size="4.0" text-anchor="middle" fill="#383838" stroke="#383838" stroke-width="0.25" transform="translate(280.45 334.40) rotate(-90)" text-rendering="geometricPrecision">C</text>
<text x="0" y="0" font-size="4.0" text-anchor="middle" fill="#383838" stroke="#383838" stroke-width="0.25" transform="translate(280.45 338.60) rotate(-90)" text-rendering="geometricPrecision">A</text>
<line x1="283.75" y1="328.80" x2="283.75" y2="331.30" stroke="#222" stroke-width="1.2"/>
<text x="0" y="0" font-size="4.0" text-anchor="middle" fill="#383838" stroke="#383838" stroke-width="0.25" transform="translate(285.05 334.40) rotate(-90)" text-rendering="geometricPrecision">G</text>
<text x="0" y="0" font-size="4.0" text-anchor="middle" fill="#383838" stroke="#383838" stroke-width="0.25" transform="translate(285.05 338.60) rotate(-90)" text-rendering="geometricPrecision">A</text>
<line x1="288.35" y1="328.80" x2="288.35" y2="331.30" stroke="#222" stroke-width="1.2"/>
<text x="0" y="0" font-size="4.0" text-anchor="middle" fill="#383838" stroke="#383838" stroke-width="0.25" transform="translate(289.65 334.40) rotate(-90)" text-rendering="geometricPrecision">T</text>
<text x="0" y="0" font-size="4.0" text-anchor="middle" fill="#383838" stroke="#383838" stroke-width="0.25" transform="translate(289.65 338.60) rotate(-90)" text-rendering="geometricPrecision">A</text>
<line x1="292.95" y1="328.80" x2="292.95" y2="331.30" stroke="#222" stroke-width="1.2"/>
<text x="0" y="0" font-size="4.0" text-anchor="middle" fill="#383838" stroke="#383838" stroke-width="0.25" transform="translate(294.25 334.40) rotate(-90)" text-rendering="geometricPrecision">A</text>
<text x="0" y="0" font-size="4.0" text-anchor="middle" fill="#383838" stroke="#383838" stroke-width="0.25" transform="translate(294.25 338.60) rotate(-90)" text-rendering="geometricPrecision">C</text>
<line x1="297.55" y1="328.80" x2="297.55" y2="331.30" stroke="#222" stroke-width="1.2"/>
<text x="0" y="0" font-size="4.0" text-anchor="middle" fill="#383838" stroke="#383838" stroke-width="0.25" transform="translate(298.85 334.40) rotate(-90)" text-rendering="geometricPrecision">C</text>
<text x="0" y="0" font-size="4.0" text-anchor="middle" fill="#383838" stroke="#383838" stroke-width="0.25" transform="translate(298.85 338.60) rotate(-90)" text-rendering="geometricPrecision">C</text>
<line x1="302.15" y1="328.80" x2="302.15" y2="331.30" stroke="#222" stroke-width="1.2"/>
<text x="0" y="0" font-size="4.0" text-anchor="middle" fill="#383838" stroke="#383838" stroke-width="0.25" transform="translate(303.45 334.40) rotate(-90)" text-rendering="geometricPrecision">G</text>
<text x="0" y="0" font-size="4.0" text-anchor="middle" fill="#383838" stroke="#383838" stroke-width="0.25" transform="translate(303.45 338.60) rotate(-90)" text-rendering="geometricPrecision">C</text>
<line x1="306.75" y1="328.80" x2="306.75" y2="331.30" stroke="#222" stroke-width="1.2"/>
<text x="0" y="0" font-size="4.0" text-anchor="middle" fill="#383838" stroke="#383838" stroke-width="0.25" transform="translate(308.05 334.40) rotate(-90)" text-rendering="geometricPrecision">T</text>
<text x="0" y="0" font-size="4.0" text-anchor="middle" fill="#383838" stroke="#383838" stroke-width="0.25" transform="translate(308.05 338.60) rotate(-90)" text-rendering="geometricPrecision">C</text>
<line x1="311.35" y1="328.80" x2="311.35" y2="331.30" stroke="#222" stroke-width="1.2"/>
<text x="0" y="0" font-size="4.0" text-anchor="middle" fill="#383838" stroke="#383838" stroke-width="0.25" transform="translate(312.65 334.40) rotate(-90)" text-rendering="geometricPrecision">A</text>
<text x="0" y="0" font-size="4.0" text-anchor="middle" fill="#383838" stroke="#383838" stroke-width="0.25" transform="translate(312.65 338.60) rotate(-90)" text-rendering="geometricPrecision">G</text>
<line x1="315.95" y1="328.80" x2="315.95" y2="331.30" stroke="#222" stroke-width="1.2"/>
<text x="0" y="0" font-size="4.0" text-anchor="middle" fill="#383838" stroke="#383838" stroke-width="0.25" transform="translate(317.25 334.40) rotate(-90)" text-rendering="geometricPrecision">C</text>
<text x="0" y="0" font-size="4.0" text-anchor="middle" fill="#383838" stroke="#383838" stroke-width="0.25" transform="translate(317.25 338.60) rotate(-90)" text-rendering="geometricPrecision">G</text>
<line x1="320.55" y1="328.80" x2="320.55" y2="331.30" stroke="#222" stroke-width="1.2"/>
<text x="0" y="0" font-size="4.0" text-anchor="middle" fill="#383838" stroke="#383838" stroke-width="0.25" transform="translate(321.85 334.40) rotate(-90)" text-rendering="geometricPrecision">G</text>
<text x="0" y="0" font-size="4.0" text-anchor="middle" fill="#383838" stroke="#383838" stroke-width="0.25" transform="translate(321.85 338.60) rotate(-90)" text-rendering="geometricPrecision">G</text>
<line x1="325.15" y1="328.80" x2="325.15" y2="331.30" stroke="#222" stroke-width="1.2"/>
<text x="0" y="0" font-size="4.0" text-anchor="middle" fill="#383838" stroke="#383838" stroke-width="0.25" transform="translate(326.45 334.40) rotate(-90)" text-rendering="geometricPrecision">T</text>
<text x="0" y="0" font-size="4.0" text-anchor="middle" fill="#383838" stroke="#383838" stroke-width="0.25" transform="translate(326.45 338.60) rotate(-90)" text-rendering="geometricPrecision">G</text>
<line x1="329.75" y1="328.80" x2="329.75" y2="331.30" stroke="#222" stroke-width="1.2"/>
<text x="0" y="0" font-size="4.0" text-anchor="middle" fill="#383838" stroke="#383838" stroke-width="0.25" transform="translate(331.05 334.40) rotate(-90)" text-rendering="geometricPrecision">A</text>
<text x="0" y="0" font-size="4.0" text-anchor="middle" fill="#383838" stroke="#383838" stroke-width="0.25" transform="translate(331.05 338.60) rotate(-90)" text-rendering="geometricPrecision">T</text>
<line x1="334.35" y1="328.80" x2="334.35" y2="331.30" stroke="#222" stroke-width="1.2"/>
<text x="0" y="0" font-size="4.0" text-anchor="middle" fill="#383838" stroke="#383838" stroke-width="0.25" transform="translate(335.65 334.40) rotate(-90)" text-rendering="geometricPrecision">C</text>
<text x="0" y="0" font-size="4.0" text-anchor="middle" fill="#383838" stroke="#383838" stroke-width="0.25" transform="translate(335.65 338.60) rotate(-90)" text-rendering="geometricPrecision">T</text>
<line x1="338.95" y1="328.80" x2="338.95" y2="331.30" stroke="#222" stroke-width="1.2"/>
<text x="0" y="0" font-size="4.0" text-anchor="middle" fill="#383838" stroke="#383838" stroke-width="0.25" transform="translate(340.25 334.40) rotate(-90)" text-rendering="geometricPrecision">G</text>
<text x="0" y="0" font-size="4.0" text-anchor="middle" fill="#383838" stroke="#383838" stroke-width="0.25" transform="translate(340.25 338.60) rotate(-90)" text-rendering="geometricPrecision">T</text>
<line x1="343.55" y1="328.80" x2="343.55" y2="331.30" stroke="#222" stroke-width="1.2"/>
<text x="0" y="0" font-size="4.0" text-anchor="middle" fill="#383838" stroke="#383838" stroke-width="0.25" transform="translate(344.85 334.40) rotate(-90)" text-rendering="geometricPrecision">T</text>
<text x="0" y="0" font-size="4.0" text-anchor="middle" fill="#383838" stroke="#383838" stroke-width="0.25" transform="translate(344.85 338.60) rotate(-90)" text-rendering="geometricPrecision">T</text>
<text x="0" y="0" font-size="8.3" text-anchor="middle" fill="#1a1a1a" stroke="#1a1a1a" stroke-width="0.22" transform="translate(386.65 221.10) scale(1.02 1)" >T&gt;C</text>
<rect x="350.20" y="320.10" width="4.00" height="3.10" fill="#3b6c55"/>
<rect x="354.80" y="319.50" width="4.00" height="3.70" fill="#3b6c55"/>
<rect x="359.40" y="321.10" width="4.00" height="2.10" fill="#3b6c55"/>
<rect x="364.00" y="321.10" width="4.00" height="2.10" fill="#3b6c55"/>
<rect x="368.60" y="321.10" width="4.00" height="2.10" fill="#3b6c55"/>
<rect x="373.20" y="312.50" width="4.00" height="10.70" fill="#3b6c55"/>
<rect x="377.80" y="317.30" width="4.00" height="5.90" fill="#3b6c55"/>
<rect x="382.40" y="319.10" width="4.00" height="4.10" fill="#3b6c55"/>
<rect x="387.00" y="319.10" width="4.00" height="4.10" fill="#3b6c55"/>
<rect x="391.60" y="319.10" width="4.00" height="4.10" fill="#3b6c55"/>
<rect x="396.20" y="321.70" width="4.00" height="1.50" fill="#3b6c55"/>
<rect x="400.80" y="320.90" width="4.00" height="2.30" fill="#3b6c55"/>
<rect x="410.00" y="317.00" width="4.00" height="6.20" fill="#3b6c55"/>
<rect x="419.20" y="319.90" width="4.00" height="3.30" fill="#3b6c55"/>
<line x1="349.40" y1="323.30" x2="423.90" y2="323.30" stroke="#1d3a2b" stroke-width="1"/>
<rect x="349.40" y="224.1" width="74.50" height="104.1" fill="none" stroke="#1a1a1a" stroke-width="1.2"/>
<line x1="352.25" y1="328.80" x2="352.25" y2="331.30" stroke="#222" stroke-width="1.2"/>
<text x="0" y="0" font-size="4.0" text-anchor="middle" fill="#383838" stroke="#383838" stroke-width="0.25" transform="translate(353.55 334.40) rotate(-90)" text-rendering="geometricPrecision">A</text>
<text x="0" y="0" font-size="4.0" text-anchor="middle" fill="#383838" stroke="#383838" stroke-width="0.25" transform="translate(353.55 338.60) rotate(-90)" text-rendering="geometricPrecision">A</text>
<line x1="356.85" y1="328.80" x2="356.85" y2="331.30" stroke="#222" stroke-width="1.2"/>
<text x="0" y="0" font-size="4.0" text-anchor="middle" fill="#383838" stroke="#383838" stroke-width="0.25" transform="translate(358.15 334.40) rotate(-90)" text-rendering="geometricPrecision">C</text>
<text x="0" y="0" font-size="4.0" text-anchor="middle" fill="#383838" stroke="#383838" stroke-width="0.25" transform="translate(358.15 338.60) rotate(-90)" text-rendering="geometricPrecision">A</text>
<line x1="361.45" y1="328.80" x2="361.45" y2="331.30" stroke="#222" stroke-width="1.2"/>
<text x="0" y="0" font-size="4.0" text-anchor="middle" fill="#383838" stroke="#383838" stroke-width="0.25" transform="translate(362.75 334.40) rotate(-90)" text-rendering="geometricPrecision">G</text>
<text x="0" y="0" font-size="4.0" text-anchor="middle" fill="#383838" stroke="#383838" stroke-width="0.25" transform="translate(362.75 338.60) rotate(-90)" text-rendering="geometricPrecision">A</text>
<line x1="366.05" y1="328.80" x2="366.05" y2="331.30" stroke="#222" stroke-width="1.2"/>
<text x="0" y="0" font-size="4.0" text-anchor="middle" fill="#383838" stroke="#383838" stroke-width="0.25" transform="translate(367.35 334.40) rotate(-90)" text-rendering="geometricPrecision">T</text>
<text x="0" y="0" font-size="4.0" text-anchor="middle" fill="#383838" stroke="#383838" stroke-width="0.25" transform="translate(367.35 338.60) rotate(-90)" text-rendering="geometricPrecision">A</text>
<line x1="370.65" y1="328.80" x2="370.65" y2="331.30" stroke="#222" stroke-width="1.2"/>
<text x="0" y="0" font-size="4.0" text-anchor="middle" fill="#383838" stroke="#383838" stroke-width="0.25" transform="translate(371.95 334.40) rotate(-90)" text-rendering="geometricPrecision">A</text>
<text x="0" y="0" font-size="4.0" text-anchor="middle" fill="#383838" stroke="#383838" stroke-width="0.25" transform="translate(371.95 338.60) rotate(-90)" text-rendering="geometricPrecision">C</text>
<line x1="375.25" y1="328.80" x2="375.25" y2="331.30" stroke="#222" stroke-width="1.2"/>
<text x="0" y="0" font-size="4.0" text-anchor="middle" fill="#383838" stroke="#383838" stroke-width="0.25" transform="translate(376.55 334.40) rotate(-90)" text-rendering="geometricPrecision">C</text>
<text x="0" y="0" font-size="4.0" text-anchor="middle" fill="#383838" stroke="#383838" stroke-width="0.25" transform="translate(376.55 338.60) rotate(-90)" text-rendering="geometricPrecision">C</text>
<line x1="379.85" y1="328.80" x2="379.85" y2="331.30" stroke="#222" stroke-width="1.2"/>
<text x="0" y="0" font-size="4.0" text-anchor="middle" fill="#383838" stroke="#383838" stroke-width="0.25" transform="translate(381.15 334.40) rotate(-90)" text-rendering="geometricPrecision">G</text>
<text x="0" y="0" font-size="4.0" text-anchor="middle" fill="#383838" stroke="#383838" stroke-width="0.25" transform="translate(381.15 338.60) rotate(-90)" text-rendering="geometricPrecision">C</text>
<line x1="384.45" y1="328.80" x2="384.45" y2="331.30" stroke="#222" stroke-width="1.2"/>
<text x="0" y="0" font-size="4.0" text-anchor="middle" fill="#383838" stroke="#383838" stroke-width="0.25" transform="translate(385.75 334.40) rotate(-90)" text-rendering="geometricPrecision">T</text>
<text x="0" y="0" font-size="4.0" text-anchor="middle" fill="#383838" stroke="#383838" stroke-width="0.25" transform="translate(385.75 338.60) rotate(-90)" text-rendering="geometricPrecision">C</text>
<line x1="389.05" y1="328.80" x2="389.05" y2="331.30" stroke="#222" stroke-width="1.2"/>
<text x="0" y="0" font-size="4.0" text-anchor="middle" fill="#383838" stroke="#383838" stroke-width="0.25" transform="translate(390.35 334.40) rotate(-90)" text-rendering="geometricPrecision">A</text>
<text x="0" y="0" font-size="4.0" text-anchor="middle" fill="#383838" stroke="#383838" stroke-width="0.25" transform="translate(390.35 338.60) rotate(-90)" text-rendering="geometricPrecision">G</text>
<line x1="393.65" y1="328.80" x2="393.65" y2="331.30" stroke="#222" stroke-width="1.2"/>
<text x="0" y="0" font-size="4.0" text-anchor="middle" fill="#383838" stroke="#383838" stroke-width="0.25" transform="translate(394.95 334.40) rotate(-90)" text-rendering="geometricPrecision">C</text>
<text x="0" y="0" font-size="4.0" text-anchor="middle" fill="#383838" stroke="#383838" stroke-width="0.25" transform="translate(394.95 338.60) rotate(-90)" text-rendering="geometricPrecision">G</text>
<line x1="398.25" y1="328.80" x2="398.25" y2="331.30" stroke="#222" stroke-width="1.2"/>
<text x="0" y="0" font-size="4.0" text-anchor="middle" fill="#383838" stroke="#383838" stroke-width="0.25" transform="translate(399.55 334.40) rotate(-90)" text-rendering="geometricPrecision">G</text>
<text x="0" y="0" font-size="4.0" text-anchor="middle" fill="#383838" stroke="#383838" stroke-width="0.25" transform="translate(399.55 338.60) rotate(-90)" text-rendering="geometricPrecision">G</text>
<line x1="402.85" y1="328.80" x2="402.85" y2="331.30" stroke="#222" stroke-width="1.2"/>
<text x="0" y="0" font-size="4.0" text-anchor="middle" fill="#383838" stroke="#383838" stroke-width="0.25" transform="translate(404.15 334.40) rotate(-90)" text-rendering="geometricPrecision">T</text>
<text x="0" y="0" font-size="4.0" text-anchor="middle" fill="#383838" stroke="#383838" stroke-width="0.25" transform="translate(404.15 338.60) rotate(-90)" text-rendering="geometricPrecision">G</text>
<line x1="407.45" y1="328.80" x2="407.45" y2="331.30" stroke="#222" stroke-width="1.2"/>
<text x="0" y="0" font-size="4.0" text-anchor="middle" fill="#383838" stroke="#383838" stroke-width="0.25" transform="translate(408.75 334.40) rotate(-90)" text-rendering="geometricPrecision">A</text>
<text x="0" y="0" font-size="4.0" text-anchor="middle" fill="#383838" stroke="#383838" stroke-width="0.25" transform="translate(408.75 338.60) rotate(-90)" text-rendering="geometricPrecision">T</text>
<line x1="412.05" y1="328.80" x2="412.05" y2="331.30" stroke="#222" stroke-width="1.2"/>
<text x="0" y="0" font-size="4.0" text-anchor="middle" fill="#383838" stroke="#383838" stroke-width="0.25" transform="translate(413.35 334.40) rotate(-90)" text-rendering="geometricPrecision">C</text>
<text x="0" y="0" font-size="4.0" text-anchor="middle" fill="#383838" stroke="#383838" stroke-width="0.25" transform="translate(413.35 338.60) rotate(-90)" text-rendering="geometricPrecision">T</text>
<line x1="416.65" y1="328.80" x2="416.65" y2="331.30" stroke="#222" stroke-width="1.2"/>
<text x="0" y="0" font-size="4.0" text-anchor="middle" fill="#383838" stroke="#383838" stroke-width="0.25" transform="translate(417.95 334.40) rotate(-90)" text-rendering="geometricPrecision">G</text>
<text x="0" y="0" font-size="4.0" text-anchor="middle" fill="#383838" stroke="#383838" stroke-width="0.25" transform="translate(417.95 338.60) rotate(-90)" text-rendering="geometricPrecision">T</text>
<line x1="421.25" y1="328.80" x2="421.25" y2="331.30" stroke="#222" stroke-width="1.2"/>
<text x="0" y="0" font-size="4.0" text-anchor="middle" fill="#383838" stroke="#383838" stroke-width="0.25" transform="translate(422.55 334.40) rotate(-90)" text-rendering="geometricPrecision">T</text>
<text x="0" y="0" font-size="4.0" text-anchor="middle" fill="#383838" stroke="#383838" stroke-width="0.25" transform="translate(422.55 338.60) rotate(-90)" text-rendering="geometricPrecision">T</text>
<text x="0" y="0" font-size="8.3" text-anchor="middle" fill="#1a1a1a" stroke="#1a1a1a" stroke-width="0.22" transform="translate(463.85 221.10) scale(1.02 1)" >T&gt;G</text>
<rect x="427.40" y="322.10" width="4.00" height="1.10" fill="#3b6c55"/>
<rect x="432.00" y="322.20" width="4.00" height="1.00" fill="#3b6c55"/>
<rect x="436.60" y="321.20" width="4.00" height="2.00" fill="#3b6c55"/>
<rect x="441.20" y="322.20" width="4.00" height="1.00" fill="#3b6c55"/>
<rect x="445.80" y="322.60" width="4.00" height="0.60" fill="#3b6c55"/>
<rect x="450.40" y="321.70" width="4.00" height="1.50" fill="#3b6c55"/>
<rect x="455.00" y="316.00" width="4.00" height="7.20" fill="#3b6c55"/>
<rect x="459.60" y="317.90" width="4.00" height="5.30" fill="#3b6c55"/>
<rect x="464.20" y="317.70" width="4.00" height="5.50" fill="#3b6c55"/>
<rect x="468.80" y="317.70" width="4.00" height="5.50" fill="#3b6c55"/>
<rect x="473.40" y="300.60" width="4.00" height="22.60" fill="#3b6c55"/>
<rect x="478.00" y="315.70" width="4.00" height="7.50" fill="#3b6c55"/>
<rect x="482.60" y="322.30" width="4.00" height="0.90" fill="#3b6c55"/>
<rect x="487.20" y="321.40" width="4.00" height="1.80" fill="#3b6c55"/>
<rect x="491.80" y="322.50" width="4.00" height="0.70" fill="#3b6c55"/>
<rect x="496.40" y="321.00" width="4.00" height="2.20" fill="#3b6c55"/>
<line x1="426.60" y1="323.30" x2="501.10" y2="323.30" stroke="#1d3a2b" stroke-width="1"/>
<rect x="426.60" y="224.1" width="74.50" height="104.1" fill="none" stroke="#1a1a1a" stroke-width="1.2"/>
<line x1="429.45" y1="328.80" x2="429.45" y2="331.30" stroke="#222" stroke-width="1.2"/>
<text x="0" y="0" font-size="4.0" text-anchor="middle" fill="#383838" stroke="#383838" stroke-width="0.25" transform="translate(430.75 334.40) rotate(-90)" text-rendering="geometricPrecision">A</text>
<text x="0" y="0" font-size="4.0" text-anchor="middle" fill="#383838" stroke="#383838" stroke-width="0.25" transform="translate(430.75 338.60) rotate(-90)" text-rendering="geometricPrecision">A</text>
<line x1="434.05" y1="328.80" x2="434.05" y2="331.30" stroke="#222" stroke-width="1.2"/>
<text x="0" y="0" font-size="4.0" text-anchor="middle" fill="#383838" stroke="#383838" stroke-width="0.25" transform="translate(435.35 334.40) rotate(-90)" text-rendering="geometricPrecision">C</text>
<text x="0" y="0" font-size="4.0" text-anchor="middle" fill="#383838" stroke="#383838" stroke-width="0.25" transform="translate(435.35 338.60) rotate(-90)" text-rendering="geometricPrecision">A</text>
<line x1="438.65" y1="328.80" x2="438.65" y2="331.30" stroke="#222" stroke-width="1.2"/>
<text x="0" y="0" font-size="4.0" text-anchor="middle" fill="#383838" stroke="#383838" stroke-width="0.25" transform="translate(439.95 334.40) rotate(-90)" text-rendering="geometricPrecision">G</text>
<text x="0" y="0" font-size="4.0" text-anchor="middle" fill="#383838" stroke="#383838" stroke-width="0.25" transform="translate(439.95 338.60) rotate(-90)" text-rendering="geometricPrecision">A</text>
<line x1="443.25" y1="328.80" x2="443.25" y2="331.30" stroke="#222" stroke-width="1.2"/>
<text x="0" y="0" font-size="4.0" text-anchor="middle" fill="#383838" stroke="#383838" stroke-width="0.25" transform="translate(444.55 334.40) rotate(-90)" text-rendering="geometricPrecision">T</text>
<text x="0" y="0" font-size="4.0" text-anchor="middle" fill="#383838" stroke="#383838" stroke-width="0.25" transform="translate(444.55 338.60) rotate(-90)" text-rendering="geometricPrecision">A</text>
<line x1="447.85" y1="328.80" x2="447.85" y2="331.30" stroke="#222" stroke-width="1.2"/>
<text x="0" y="0" font-size="4.0" text-anchor="middle" fill="#383838" stroke="#383838" stroke-width="0.25" transform="translate(449.15 334.40) rotate(-90)" text-rendering="geometricPrecision">A</text>
<text x="0" y="0" font-size="4.0" text-anchor="middle" fill="#383838" stroke="#383838" stroke-width="0.25" transform="translate(449.15 338.60) rotate(-90)" text-rendering="geometricPrecision">C</text>
<line x1="452.45" y1="328.80" x2="452.45" y2="331.30" stroke="#222" stroke-width="1.2"/>
<text x="0" y="0" font-size="4.0" text-anchor="middle" fill="#383838" stroke="#383838" stroke-width="0.25" transform="translate(453.75 334.40) rotate(-90)" text-rendering="geometricPrecision">C</text>
<text x="0" y="0" font-size="4.0" text-anchor="middle" fill="#383838" stroke="#383838" stroke-width="0.25" transform="translate(453.75 338.60) rotate(-90)" text-rendering="geometricPrecision">C</text>
<line x1="457.05" y1="328.80" x2="457.05" y2="331.30" stroke="#222" stroke-width="1.2"/>
<text x="0" y="0" font-size="4.0" text-anchor="middle" fill="#383838" stroke="#383838" stroke-width="0.25" transform="translate(458.35 334.40) rotate(-90)" text-rendering="geometricPrecision">G</text>
<text x="0" y="0" font-size="4.0" text-anchor="middle" fill="#383838" stroke="#383838" stroke-width="0.25" transform="translate(458.35 338.60) rotate(-90)" text-rendering="geometricPrecision">C</text>
<line x1="461.65" y1="328.80" x2="461.65" y2="331.30" stroke="#222" stroke-width="1.2"/>
<text x="0" y="0" font-size="4.0" text-anchor="middle" fill="#383838" stroke="#383838" stroke-width="0.25" transform="translate(462.95 334.40) rotate(-90)" text-rendering="geometricPrecision">T</text>
<text x="0" y="0" font-size="4.0" text-anchor="middle" fill="#383838" stroke="#383838" stroke-width="0.25" transform="translate(462.95 338.60) rotate(-90)" text-rendering="geometricPrecision">C</text>
<line x1="466.25" y1="328.80" x2="466.25" y2="331.30" stroke="#222" stroke-width="1.2"/>
<text x="0" y="0" font-size="4.0" text-anchor="middle" fill="#383838" stroke="#383838" stroke-width="0.25" transform="translate(467.55 334.40) rotate(-90)" text-rendering="geometricPrecision">A</text>
<text x="0" y="0" font-size="4.0" text-anchor="middle" fill="#383838" stroke="#383838" stroke-width="0.25" transform="translate(467.55 338.60) rotate(-90)" text-rendering="geometricPrecision">G</text>
<line x1="470.85" y1="328.80" x2="470.85" y2="331.30" stroke="#222" stroke-width="1.2"/>
<text x="0" y="0" font-size="4.0" text-anchor="middle" fill="#383838" stroke="#383838" stroke-width="0.25" transform="translate(472.15 334.40) rotate(-90)" text-rendering="geometricPrecision">C</text>
<text x="0" y="0" font-size="4.0" text-anchor="middle" fill="#383838" stroke="#383838" stroke-width="0.25" transform="translate(472.15 338.60) rotate(-90)" text-rendering="geometricPrecision">G</text>
<line x1="475.45" y1="328.80" x2="475.45" y2="331.30" stroke="#222" stroke-width="1.2"/>
<text x="0" y="0" font-size="4.0" text-anchor="middle" fill="#383838" stroke="#383838" stroke-width="0.25" transform="translate(476.75 334.40) rotate(-90)" text-rendering="geometricPrecision">G</text>
<text x="0" y="0" font-size="4.0" text-anchor="middle" fill="#383838" stroke="#383838" stroke-width="0.25" transform="translate(476.75 338.60) rotate(-90)" text-rendering="geometricPrecision">G</text>
<line x1="480.05" y1="328.80" x2="480.05" y2="331.30" stroke="#222" stroke-width="1.2"/>
<text x="0" y="0" font-size="4.0" text-anchor="middle" fill="#383838" stroke="#383838" stroke-width="0.25" transform="translate(481.35 334.40) rotate(-90)" text-rendering="geometricPrecision">T</text>
<text x="0" y="0" font-size="4.0" text-anchor="middle" fill="#383838" stroke="#383838" stroke-width="0.25" transform="translate(481.35 338.60) rotate(-90)" text-rendering="geometricPrecision">G</text>
<line x1="484.65" y1="328.80" x2="484.65" y2="331.30" stroke="#222" stroke-width="1.2"/>
<text x="0" y="0" font-size="4.0" text-anchor="middle" fill="#383838" stroke="#383838" stroke-width="0.25" transform="translate(485.95 334.40) rotate(-90)" text-rendering="geometricPrecision">A</text>
<text x="0" y="0" font-size="4.0" text-anchor="middle" fill="#383838" stroke="#383838" stroke-width="0.25" transform="translate(485.95 338.60) rotate(-90)" text-rendering="geometricPrecision">T</text>
<line x1="489.25" y1="328.80" x2="489.25" y2="331.30" stroke="#222" stroke-width="1.2"/>
<text x="0" y="0" font-size="4.0" text-anchor="middle" fill="#383838" stroke="#383838" stroke-width="0.25" transform="translate(490.55 334.40) rotate(-90)" text-rendering="geometricPrecision">C</text>
<text x="0" y="0" font-size="4.0" text-anchor="middle" fill="#383838" stroke="#383838" stroke-width="0.25" transform="translate(490.55 338.60) rotate(-90)" text-rendering="geometricPrecision">T</text>
<line x1="493.85" y1="328.80" x2="493.85" y2="331.30" stroke="#222" stroke-width="1.2"/>
<text x="0" y="0" font-size="4.0" text-anchor="middle" fill="#383838" stroke="#383838" stroke-width="0.25" transform="translate(495.15 334.40) rotate(-90)" text-rendering="geometricPrecision">G</text>
<text x="0" y="0" font-size="4.0" text-anchor="middle" fill="#383838" stroke="#383838" stroke-width="0.25" transform="translate(495.15 338.60) rotate(-90)" text-rendering="geometricPrecision">T</text>
<line x1="498.45" y1="328.80" x2="498.45" y2="331.30" stroke="#222" stroke-width="1.2"/>
<text x="0" y="0" font-size="4.0" text-anchor="middle" fill="#383838" stroke="#383838" stroke-width="0.25" transform="translate(499.75 334.40) rotate(-90)" text-rendering="geometricPrecision">T</text>
<text x="0" y="0" font-size="4.0" text-anchor="middle" fill="#383838" stroke="#383838" stroke-width="0.25" transform="translate(499.75 338.60) rotate(-90)" text-rendering="geometricPrecision">T</text>
<line x1="36.30" y1="323.20" x2="39.80" y2="323.20" stroke="#111" stroke-width="1"/>
<text x="0" y="0" font-size="6.2" text-anchor="end" fill="#333" stroke="#333" stroke-width="0.22" transform="translate(34.30 324.80) scale(1.09 1)" >0.00</text>
<line x1="36.30" y1="298.50" x2="39.80" y2="298.50" stroke="#111" stroke-width="1"/>
<text x="0" y="0" font-size="6.2" text-anchor="end" fill="#333" stroke="#333" stroke-width="0.22" transform="translate(34.30 300.10) scale(1.09 1)" >0.03</text>
<line x1="36.30" y1="273.80" x2="39.80" y2="273.80" stroke="#111" stroke-width="1"/>
<text x="0" y="0" font-size="6.2" text-anchor="end" fill="#333" stroke="#333" stroke-width="0.22" transform="translate(34.30 275.40) scale(1.09 1)" >0.06</text>
<line x1="36.30" y1="249.10" x2="39.80" y2="249.10" stroke="#111" stroke-width="1"/>
<text x="0" y="0" font-size="6.2" text-anchor="end" fill="#333" stroke="#333" stroke-width="0.22" transform="translate(34.30 250.70) scale(1.09 1)" >0.09</text>
<line x1="36.30" y1="224.40" x2="39.80" y2="224.40" stroke="#111" stroke-width="1"/>
<text x="0" y="0" font-size="6.2" text-anchor="end" fill="#333" stroke="#333" stroke-width="0.22" transform="translate(34.30 226.00) scale(1.09 1)" >0.12</text>
<text x="0" y="0" font-size="7.8" text-anchor="middle" fill="#1a1a1a" stroke="#1a1a1a" stroke-width="0.22" transform="translate(16.00 275.70) scale(1.09 1) rotate(-90)" >Contribution</text>
<text x="0" y="0" font-size="8.5" text-anchor="middle" fill="#1a1a1a" stroke="#1a1a1a" stroke-width="0.22" transform="translate(270.80 349.70) scale(0.95 1)" >Motif</text>
<text x="0" y="0" font-size="7.4" text-anchor="middle" fill="#1a1a1a" stroke="#1a1a1a" stroke-width="0.22" transform="translate(507.40 276.10) rotate(90)" >Sezary</text>
<rect x="0.5" y="0.5" width="519" height="358" fill="none" stroke="#1a1a1a" stroke-width="1.2"/>
</svg>
</body></html>
